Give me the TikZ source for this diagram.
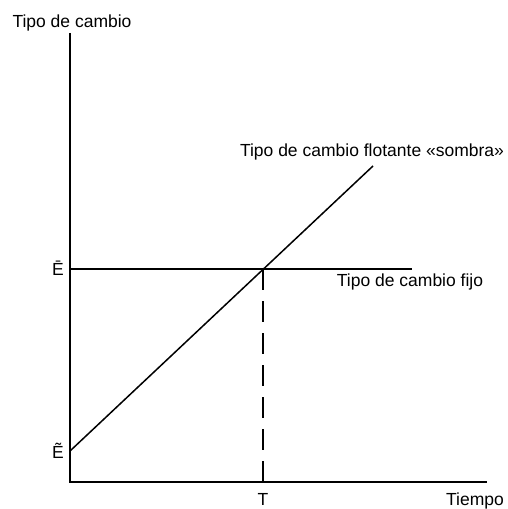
\documentclass[tikz,border=0pt]{standalone}
\usepackage{fontspec}
\setmainfont{Liberation Sans}
\begin{document}
\begin{tikzpicture}[x=1pt, y=1pt,
		axis/.style = {line width=1.5pt},
		curve/.style = {line width=1.5pt},
		lbl/.style = {inner sep=0pt, anchor=base,
					  font=\fontsize{17.5}{20}\selectfont}]

	\useasboundingbox (0,0) rectangle (507,509);

	\coordinate (O) at (70,27);
	\coordinate (Ytop) at (70,476);
	\coordinate (Xend) at (487,27);
	\coordinate (Ebar) at (70,240);
	\coordinate (Fend) at (412,240);
	\coordinate (Etil) at (70,58);
	\coordinate (Send) at (373,343);
	\coordinate (X) at (263,240);
	\coordinate (Tfoot) at (263,27);

	\draw (72,481) node[lbl] (ylab) {Tipo de cambio};
	\draw (475,4) node[lbl] (xlab) {Tiempo};
	\draw (58,233) node[lbl] (ebar) {\=E};
	\draw (58,50) node[lbl] (etil) {Ẽ};
	\draw (263,4) node[lbl] (T) {T};
	\draw (372,352) node[lbl] (flot) {Tipo de cambio flotante «sombra»};
	\draw (410,222) node[lbl] (fijo) {Tipo de cambio fijo};

	\draw[axis] (Ytop) -- (O) -- (Xend);
	\draw[curve] (Ebar) -- (Fend);
	\draw[curve] (Etil) -- (Send);
	\draw[curve, dash pattern=on 21pt off 11pt] (Tfoot) -- (X);
\end{tikzpicture}
\end{document}
